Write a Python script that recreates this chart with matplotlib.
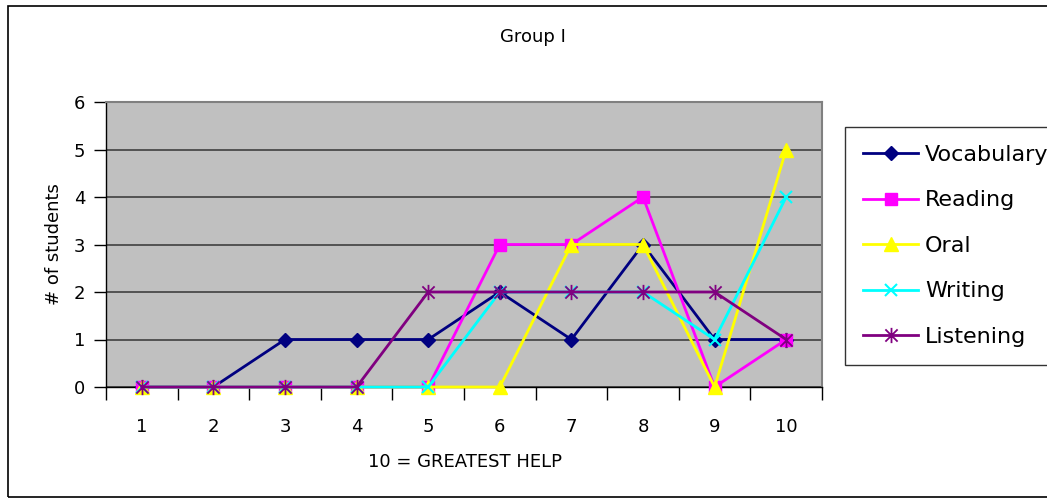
import matplotlib
matplotlib.use("Agg")
import matplotlib.pyplot as plt
from matplotlib.path import Path
from matplotlib.patches import Rectangle

categories = [1, 2, 3, 4, 5, 6, 7, 8, 9, 10]
vocabulary = [0, 0, 1, 1, 1, 2, 1, 3, 1, 1]
reading = [0, 0, 0, 0, 0, 3, 3, 4, 0, 1]
oral = [0, 0, 0, 0, 0, 0, 3, 3, 0, 5]
writing = [0, 0, 0, 0, 0, 2, 2, 2, 1, 4]
listening = [0, 0, 0, 0, 2, 2, 2, 2, 2, 1]
y_ticks = [0, 1, 2, 3, 4, 5, 6]

plt.rcParams['font.family'] = ['DejaVu Sans']

W, H = 1047, 500
fig = plt.figure(figsize=(W / 100, H / 100), dpi=100)

# plot area in pixel coordinates
left, right, top, bottom = 106, 822, 102, 387
ax = fig.add_axes([left / W, 1 - bottom / H, (right - left) / W, (bottom - top) / H])
ax.set_facecolor('#C0C0C0')

# asterisk marker: vertical bar plus an x
asterisk = Path(
    [(0, -1), (0, 1), (-0.8, -0.8), (0.8, 0.8), (-0.8, 0.8), (0.8, -0.8)],
    [Path.MOVETO, Path.LINETO, Path.MOVETO, Path.LINETO, Path.MOVETO, Path.LINETO],
)

series = [
    ("Vocabulary", vocabulary, '#000080', 'D', 7, {}),
    ("Reading", reading, '#FF00FF', 's', 8, {}),
    ("Oral", oral, '#FFFF00', '^', 10, {}),
    ("Writing", writing, '#00FFFF', 'x', 9, {'markeredgewidth': 1.5}),
    ("Listening", listening, '#800080', asterisk, 11, {'markeredgewidth': 1.3}),
]
handles = []
for name, vals, col, mk, ms, extra in series:
    h, = ax.plot(categories, vals, color=col, lw=2, marker=mk, markersize=ms,
                 markerfacecolor=col, markeredgecolor=col, label=name, clip_on=False,
                 zorder=3, **extra)
    handles.append(h)

ax.set_xlim(0.5, 10.5)
ax.set_ylim(0, 6)
ax.set_yticks(y_ticks)
ax.set_xticks([c - 0.5 for c in categories] + [10.5])
ax.set_xticklabels([])
ax.set_xticks(categories, minor=True)
ax.set_xticklabels([str(c) for c in categories], minor=True, fontsize=13)
ax.tick_params(axis='x', which='minor', length=0, pad=22)
ax.tick_params(axis='x', which='major', length=9, width=1, color='black')
ax.tick_params(axis='y', length=9, width=1, color='black', labelsize=13, pad=6)
ax.yaxis.grid(True, color='#404040', lw=1.2, zorder=1)
ax.set_axisbelow(True)

for s in ['top', 'right']:
    ax.spines[s].set_color('#808080')
    ax.spines[s].set_linewidth(1.5)
for s in ['left', 'bottom']:
    ax.spines[s].set_color('black')
    ax.spines[s].set_linewidth(1)

ax.set_ylabel('# of students', fontsize=13, labelpad=8)
fig.text(465 / W, 1 - 462 / H, '10 = GREATEST HELP', fontsize=13,
         ha='center', va='center')
fig.text(533 / W, 1 - 37 / H, 'Group I', fontsize=13, ha='center', va='center')

leg = fig.legend(handles=handles, loc='upper left',
                 bbox_to_anchor=(845 / W, 1 - 127 / H),
                 fontsize=16, frameon=True, fancybox=False, edgecolor='black',
                 handlelength=2.5, labelspacing=1.15, borderpad=0.8,
                 handletextpad=0.3, borderaxespad=0)
leg.get_frame().set_linewidth(1)

# outer chart border
fig.patches.append(Rectangle((8 / W, 3 / H), (W - 8) / W + 0.01, (H - 9) / H,
                             transform=fig.transFigure, fill=False,
                             edgecolor='black', lw=1.2))

fig.savefig('out.png', dpi=100)
